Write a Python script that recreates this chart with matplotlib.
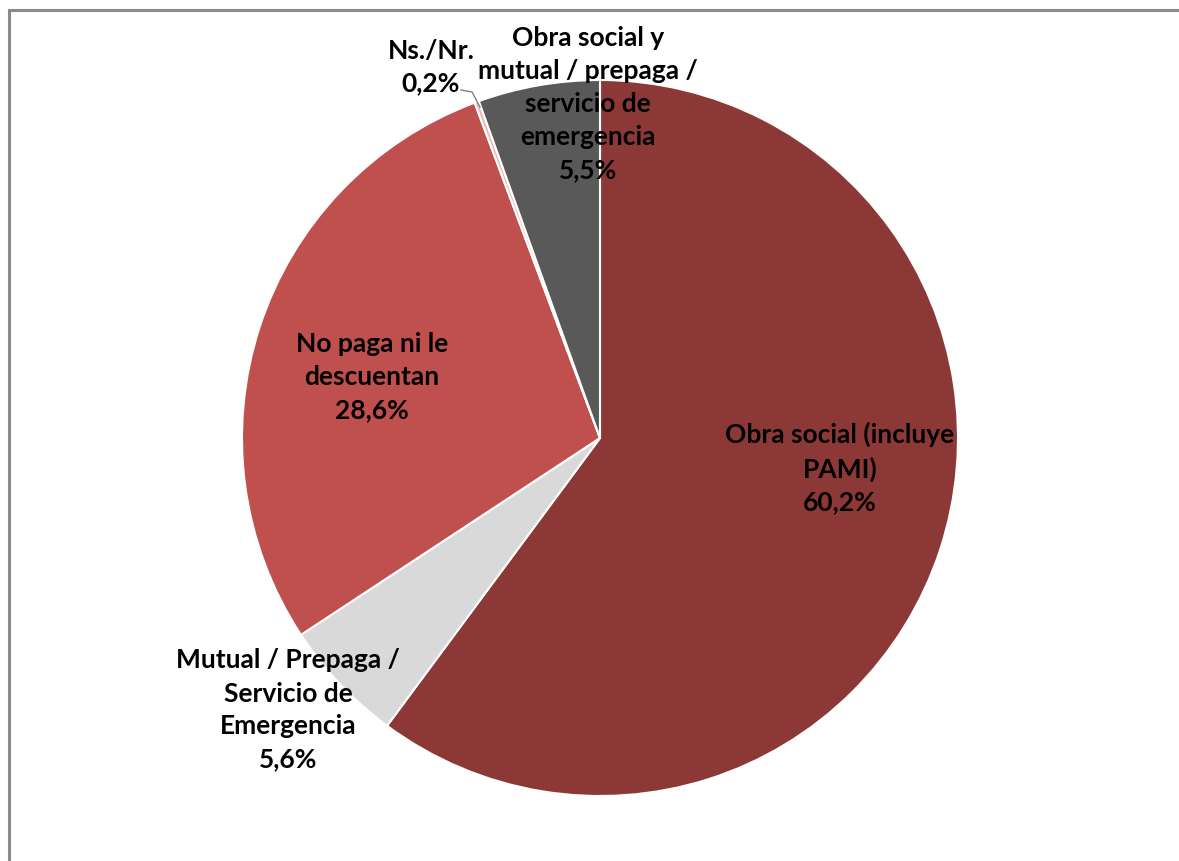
import matplotlib.pyplot as plt
from matplotlib.lines import Line2D

# cobertura de salud
categorias = ["Obra social (incluye\nPAMI)", "Mutual / Prepaga /\nServicio de\nEmergencia",
              "No paga ni le\ndescuentan", "Ns./Nr.", "Obra social y\nmutual / prepaga /\nservicio de\nemergencia"]
porcentajes = [60.2, 5.6, 28.6, 0.2, 5.5]
colores = ["#8C3836", "#D9D9D9", "#C0504D", "#E6B9B8", "#595959"]

W, H = 1179, 861
fig = plt.figure(figsize=(W / 100, H / 100), dpi=100)
ax = fig.add_axes([0, 0, 1, 1])

# marco del gráfico: solo se ven los bordes izquierdo y superior
fig.lines.append(Line2D([8.5 / W, 8.5 / W], [0, 1 - 10 / H], transform=fig.transFigure,
                        color="#8A8A8A", linewidth=2.2))
fig.lines.append(Line2D([8.5 / W, 1], [1 - 10 / H, 1 - 10 / H], transform=fig.transFigure,
                        color="#8A8A8A", linewidth=2.2))

centro = (600, H - 438)
radio = 358
ax.pie(porcentajes, colors=colores, startangle=90, counterclock=False,
       center=centro, radius=radio, frame=True,
       wedgeprops=dict(edgecolor="white", linewidth=1.5))
ax.set_xlim(0, W)
ax.set_ylim(0, H)
ax.set_aspect("equal")
ax.axis("off")

# posiciones de las etiquetas (px desde arriba)
pos = [(840, 468), (288, 710), (372, 377), (431, 67), (588, 104)]
for cat, val, (x, y) in zip(categorias, porcentajes, pos):
    txt = cat + "\n" + f"{val:.1f}".replace(".", ",") + "%"
    ax.text(x, H - y, txt, ha="center", va="center", fontsize=19,
            fontweight="bold", family=["Lato", "DejaVu Sans"], color="black",
            linespacing=1.45)

# línea guía para Ns./Nr.
ax.plot([461, 472, 480], [H - 90, H - 92, H - 107], color="#808080", linewidth=1)

fig.savefig("out.png", dpi=100)
